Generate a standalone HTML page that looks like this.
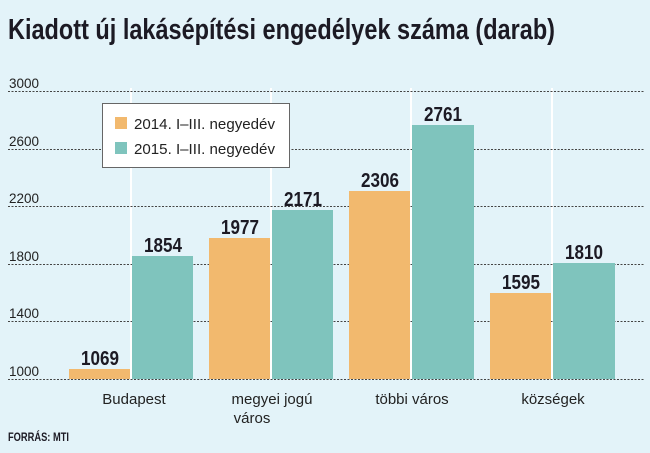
<!DOCTYPE html>
<html><head><meta charset="utf-8"><style>html,body{margin:0;padding:0;background:#e3f3f9}svg{display:block}</style></head>
<body>
<svg width="650" height="453" viewBox="0 0 650 453" xmlns="http://www.w3.org/2000/svg" font-family="Liberation Sans, sans-serif">
<rect width="650" height="453" fill="#e3f3f9"/>
<text x="8" y="39" font-size="29" font-weight="bold" fill="#1c1a24" textLength="547" lengthAdjust="spacingAndGlyphs">Kiadott új lakásépítési engedélyek száma (darab)</text>
<g stroke="#fff" stroke-width="2">
<line x1="131" y1="88" x2="131" y2="380"/><line x1="271" y1="88" x2="271" y2="380"/>
<line x1="411" y1="88" x2="411" y2="380"/><line x1="552" y1="88" x2="552" y2="380"/>
</g>
<g stroke="#444" stroke-width="1" stroke-dasharray="2,1.5">
<line x1="8" y1="91.5" x2="645" y2="91.5"/><line x1="8" y1="149.5" x2="645" y2="149.5"/>
<line x1="8" y1="206.5" x2="645" y2="206.5"/><line x1="8" y1="264.5" x2="645" y2="264.5"/>
<line x1="8" y1="321.5" x2="645" y2="321.5"/>
</g>
<g font-size="14" fill="#222">
<text x="9" y="88" textLength="30" lengthAdjust="spacingAndGlyphs">3000</text><text x="9" y="146" textLength="30" lengthAdjust="spacingAndGlyphs">2600</text><text x="9" y="203" textLength="30" lengthAdjust="spacingAndGlyphs">2200</text>
<text x="9" y="261" textLength="30" lengthAdjust="spacingAndGlyphs">1800</text><text x="9" y="318" textLength="30" lengthAdjust="spacingAndGlyphs">1400</text><text x="9" y="376" textLength="30" lengthAdjust="spacingAndGlyphs">1000</text>
</g>
<g fill="#f2b96e">
<rect x="69" y="369" width="61" height="10"/><rect x="209" y="238" width="61" height="141"/>
<rect x="349" y="191" width="61" height="188"/><rect x="490" y="293" width="61" height="86"/>
</g>
<g fill="#7fc4bd">
<rect x="132" y="256" width="61" height="123"/><rect x="272" y="210" width="61" height="169"/>
<rect x="412" y="125" width="62" height="254"/><rect x="553" y="263" width="62" height="116"/>
</g>
<line x1="8" y1="379.5" x2="645" y2="379.5" stroke="#444" stroke-dasharray="2,1.5"/>
<g font-size="20" font-weight="bold" fill="#1c1a24" text-anchor="middle">
<text x="100" y="365" textLength="38" lengthAdjust="spacingAndGlyphs">1069</text>
<text x="163" y="252" textLength="38" lengthAdjust="spacingAndGlyphs">1854</text>
<text x="240" y="234" textLength="38" lengthAdjust="spacingAndGlyphs">1977</text>
<text x="303" y="206" textLength="38" lengthAdjust="spacingAndGlyphs">2171</text>
<text x="380" y="187" textLength="38" lengthAdjust="spacingAndGlyphs">2306</text>
<text x="443" y="121" textLength="38" lengthAdjust="spacingAndGlyphs">2761</text>
<text x="521" y="289" textLength="38" lengthAdjust="spacingAndGlyphs">1595</text>
<text x="584" y="259" textLength="38" lengthAdjust="spacingAndGlyphs">1810</text>
</g>
<g font-size="15" fill="#222" text-anchor="middle">
<text x="134" y="404">Budapest</text>
<text x="272" y="404">megyei jogú</text><text x="252" y="423">város</text>
<text x="412" y="404">többi város</text>
<text x="553" y="404">községek</text>
</g>
<text x="8" y="441" font-size="12" font-weight="bold" fill="#1c1a24" textLength="61" lengthAdjust="spacingAndGlyphs">FORRÁS: MTI</text>
<rect x="102.5" y="103.5" width="187" height="64" fill="#fff" stroke="#666"/>
<rect x="115" y="117" width="12" height="12" fill="#f2b96e"/>
<rect x="115" y="142" width="12" height="12" fill="#7fc4bd"/>
<g font-size="15" fill="#222">
<text x="134" y="129" textLength="141" lengthAdjust="spacingAndGlyphs">2014. I–III. negyedév</text>
<text x="134" y="154" textLength="141" lengthAdjust="spacingAndGlyphs">2015. I–III. negyedév</text>
</g>
</svg>
</body></html>
